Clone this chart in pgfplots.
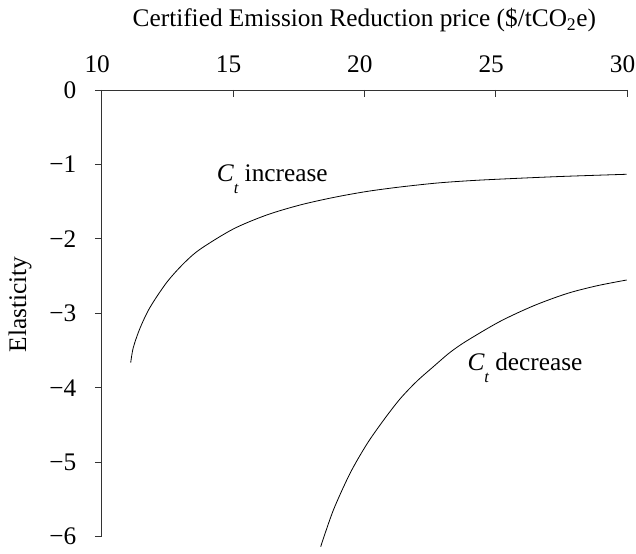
\documentclass[border=0pt]{standalone}
\usepackage{fontspec}
\setmainfont{Liberation Serif}
\usepackage{pgfplots}
\pgfplotsset{compat=1.18}
\newcommand{\Ct}{{\itshape C}\raisebox{-12pt}{\fontsize{16.5}{16.5}\selectfont\itshape t}}
\begin{document}
\fontsize{25.3}{30}\selectfont
\begin{tikzpicture}
\begin{axis}[
  scale only axis,
  width=525.3pt, height=446.7pt,
  xmin=10, xmax=30, ymin=-6, ymax=0,
  axis x line*=top, axis y line*=left,
  axis line style={line width=0.8pt, black!80},
  xtick={10,15,20,25,30}, xticklabels={10,15,20,25,30},
  ytick={0,-1,-2,-3,-4,-5,-6}, yticklabels={0,−1,−2,−3,−4,−5,−6},
  xtick align=inside, ytick align=outside,
  major tick length=6.7pt,
  every tick/.style={black!80, line width=0.8pt},
  xticklabel style={inner sep=0pt, yshift=16.9pt, xshift=-4.5pt},
  yticklabel style={xshift=-10pt},
  xlabel={Certified Emission Reduction price (\$/tCO\textsubscript{2}e)},
  xlabel style={at={(axis description cs:0.5,1)}, anchor=base, yshift=63pt},
  ylabel={Elasticity},
  ylabel style={at={(axis description cs:-0.117,0.52)}, anchor=south},
  clip=false,
]
% C_t increase
\addplot[black, line width=0.8pt, smooth] coordinates {
  (11.104,-3.663) (11.203,-3.460) (11.458,-3.200) (11.839,-2.920) (12.475,-2.585)
  (13.107,-2.335) (13.743,-2.140) (15.010,-1.867) (16.282,-1.679) (17.549,-1.545)
  (18.818,-1.444) (20.089,-1.363) (21.357,-1.303) (22.755,-1.250) (24.020,-1.218)
  (25.290,-1.195) (27.449,-1.162) (29.989,-1.132)
};
% C_t decrease
\addplot[black, line width=0.8pt, smooth] coordinates {
  (18.338,-6.134) (18.818,-5.645) (19.454,-5.150) (20.089,-4.760) (20.721,-4.440)
  (21.357,-4.150) (21.990,-3.915) (22.625,-3.717) (23.260,-3.525) (23.897,-3.370)
  (25.157,-3.110) (26.433,-2.900) (27.704,-2.735) (28.850,-2.630) (29.989,-2.552)
};
\node[anchor=base west, inner sep=0pt] at (axis cs:14.38,-1.232) {\Ct\ increase};
\node[anchor=base west, inner sep=0pt] at (axis cs:23.92,-3.774) {\Ct\ decrease};
\end{axis}
\path (-101.7pt,-10.3pt) rectangle (534.3pt,536.7pt);
\end{tikzpicture}
\end{document}
